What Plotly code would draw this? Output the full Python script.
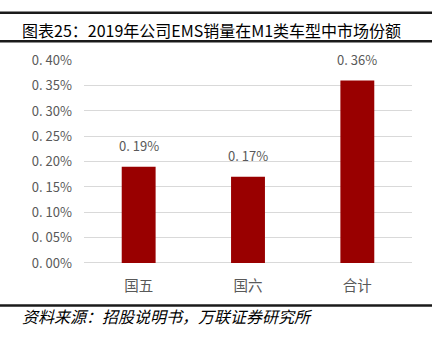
import plotly.graph_objects as go

categories = ["国五", "国六", "合计"]
values = [0.19, 0.17, 0.36]  # percent
value_labels = ["0. 19%", "0. 17%", "0. 36%"]
tick_vals = [0.00, 0.05, 0.10, 0.15, 0.20, 0.25, 0.30, 0.35, 0.40]
tick_text = ["0. 00%", "0. 05%", "0. 10%", "0. 15%", "0. 20%", "0. 25%", "0. 30%", "0. 35%", "0. 40%"]
title = "图表25：2019年公司EMS销量在M1类车型中市场份额"
source = "资料来源：招股说明书，万联证券研究所"

W, H = 437, 350
FONT = "Noto Sans CJK SC"
GREY = "#595959"

fig = go.Figure()
fig.add_trace(go.Bar(
    x=categories, y=values,
    marker=dict(color="#990000", line=dict(width=0)),
    hoverinfo="skip",
))

def px_x(p):
    return p / W

def px_y(p):
    return 1 - p / H

shapes = [
    dict(type="line", xref="paper", yref="paper", x0=0, x1=px_x(432), y0=px_y(3), y1=px_y(3),
         line=dict(color="#1a1a1a", width=2.5)),
    dict(type="line", xref="paper", yref="paper", x0=0, x1=px_x(432), y0=px_y(33), y1=px_y(33),
         line=dict(color="#1a1a1a", width=2.5)),
    dict(type="line", xref="paper", yref="paper", x0=0, x1=px_x(432), y0=px_y(312.5), y1=px_y(312.5),
         line=dict(color="#1a1a1a", width=2.5)),
]

annotations = [
    dict(text=title, xref="paper", yref="paper", x=px_x(20), y=px_y(21), xanchor="left", yanchor="middle",
         showarrow=False, font=dict(family=FONT, size=16, color="#000000")),
    dict(text="<i>" + source + "</i>", xref="paper", yref="paper", x=px_x(20), y=px_y(324),
         xanchor="left", yanchor="middle", showarrow=False,
         font=dict(family=FONT, size=16, color="#000000")),
]
for c, v, t in zip(categories, values, value_labels):
    annotations.append(dict(text=t, x=c, y=v, xref="x", yref="y", xanchor="center", yanchor="bottom",
                            yshift=10, showarrow=False, font=dict(family=FONT, size=13, color=GREY)))

fig.update_layout(
    width=W, height=H,
    margin=dict(l=0, r=0, t=0, b=0),
    paper_bgcolor="white", plot_bgcolor="white",
    showlegend=False,
    bargap=0.69,
    shapes=shapes,
    annotations=annotations,
    xaxis=dict(domain=[84 / W, 412 / W], showgrid=False, showline=False, ticks="",
               tickfont=dict(family=FONT, size=14.5, color=GREY), ticklabelstandoff=13),
    yaxis=dict(domain=[1 - 267.5 / H, 1 - 53.2 / H], range=[0, 0.4], tickvals=tick_vals, ticktext=tick_text,
               showgrid=True, gridcolor="#d9d9d9", gridwidth=1, zeroline=True, zerolinecolor="#d9d9d9",
               zerolinewidth=1, showline=False, ticks="",
               tickfont=dict(family=FONT, size=13, color=GREY), ticklabelstandoff=11),
)

fig.write_html("out.html")
